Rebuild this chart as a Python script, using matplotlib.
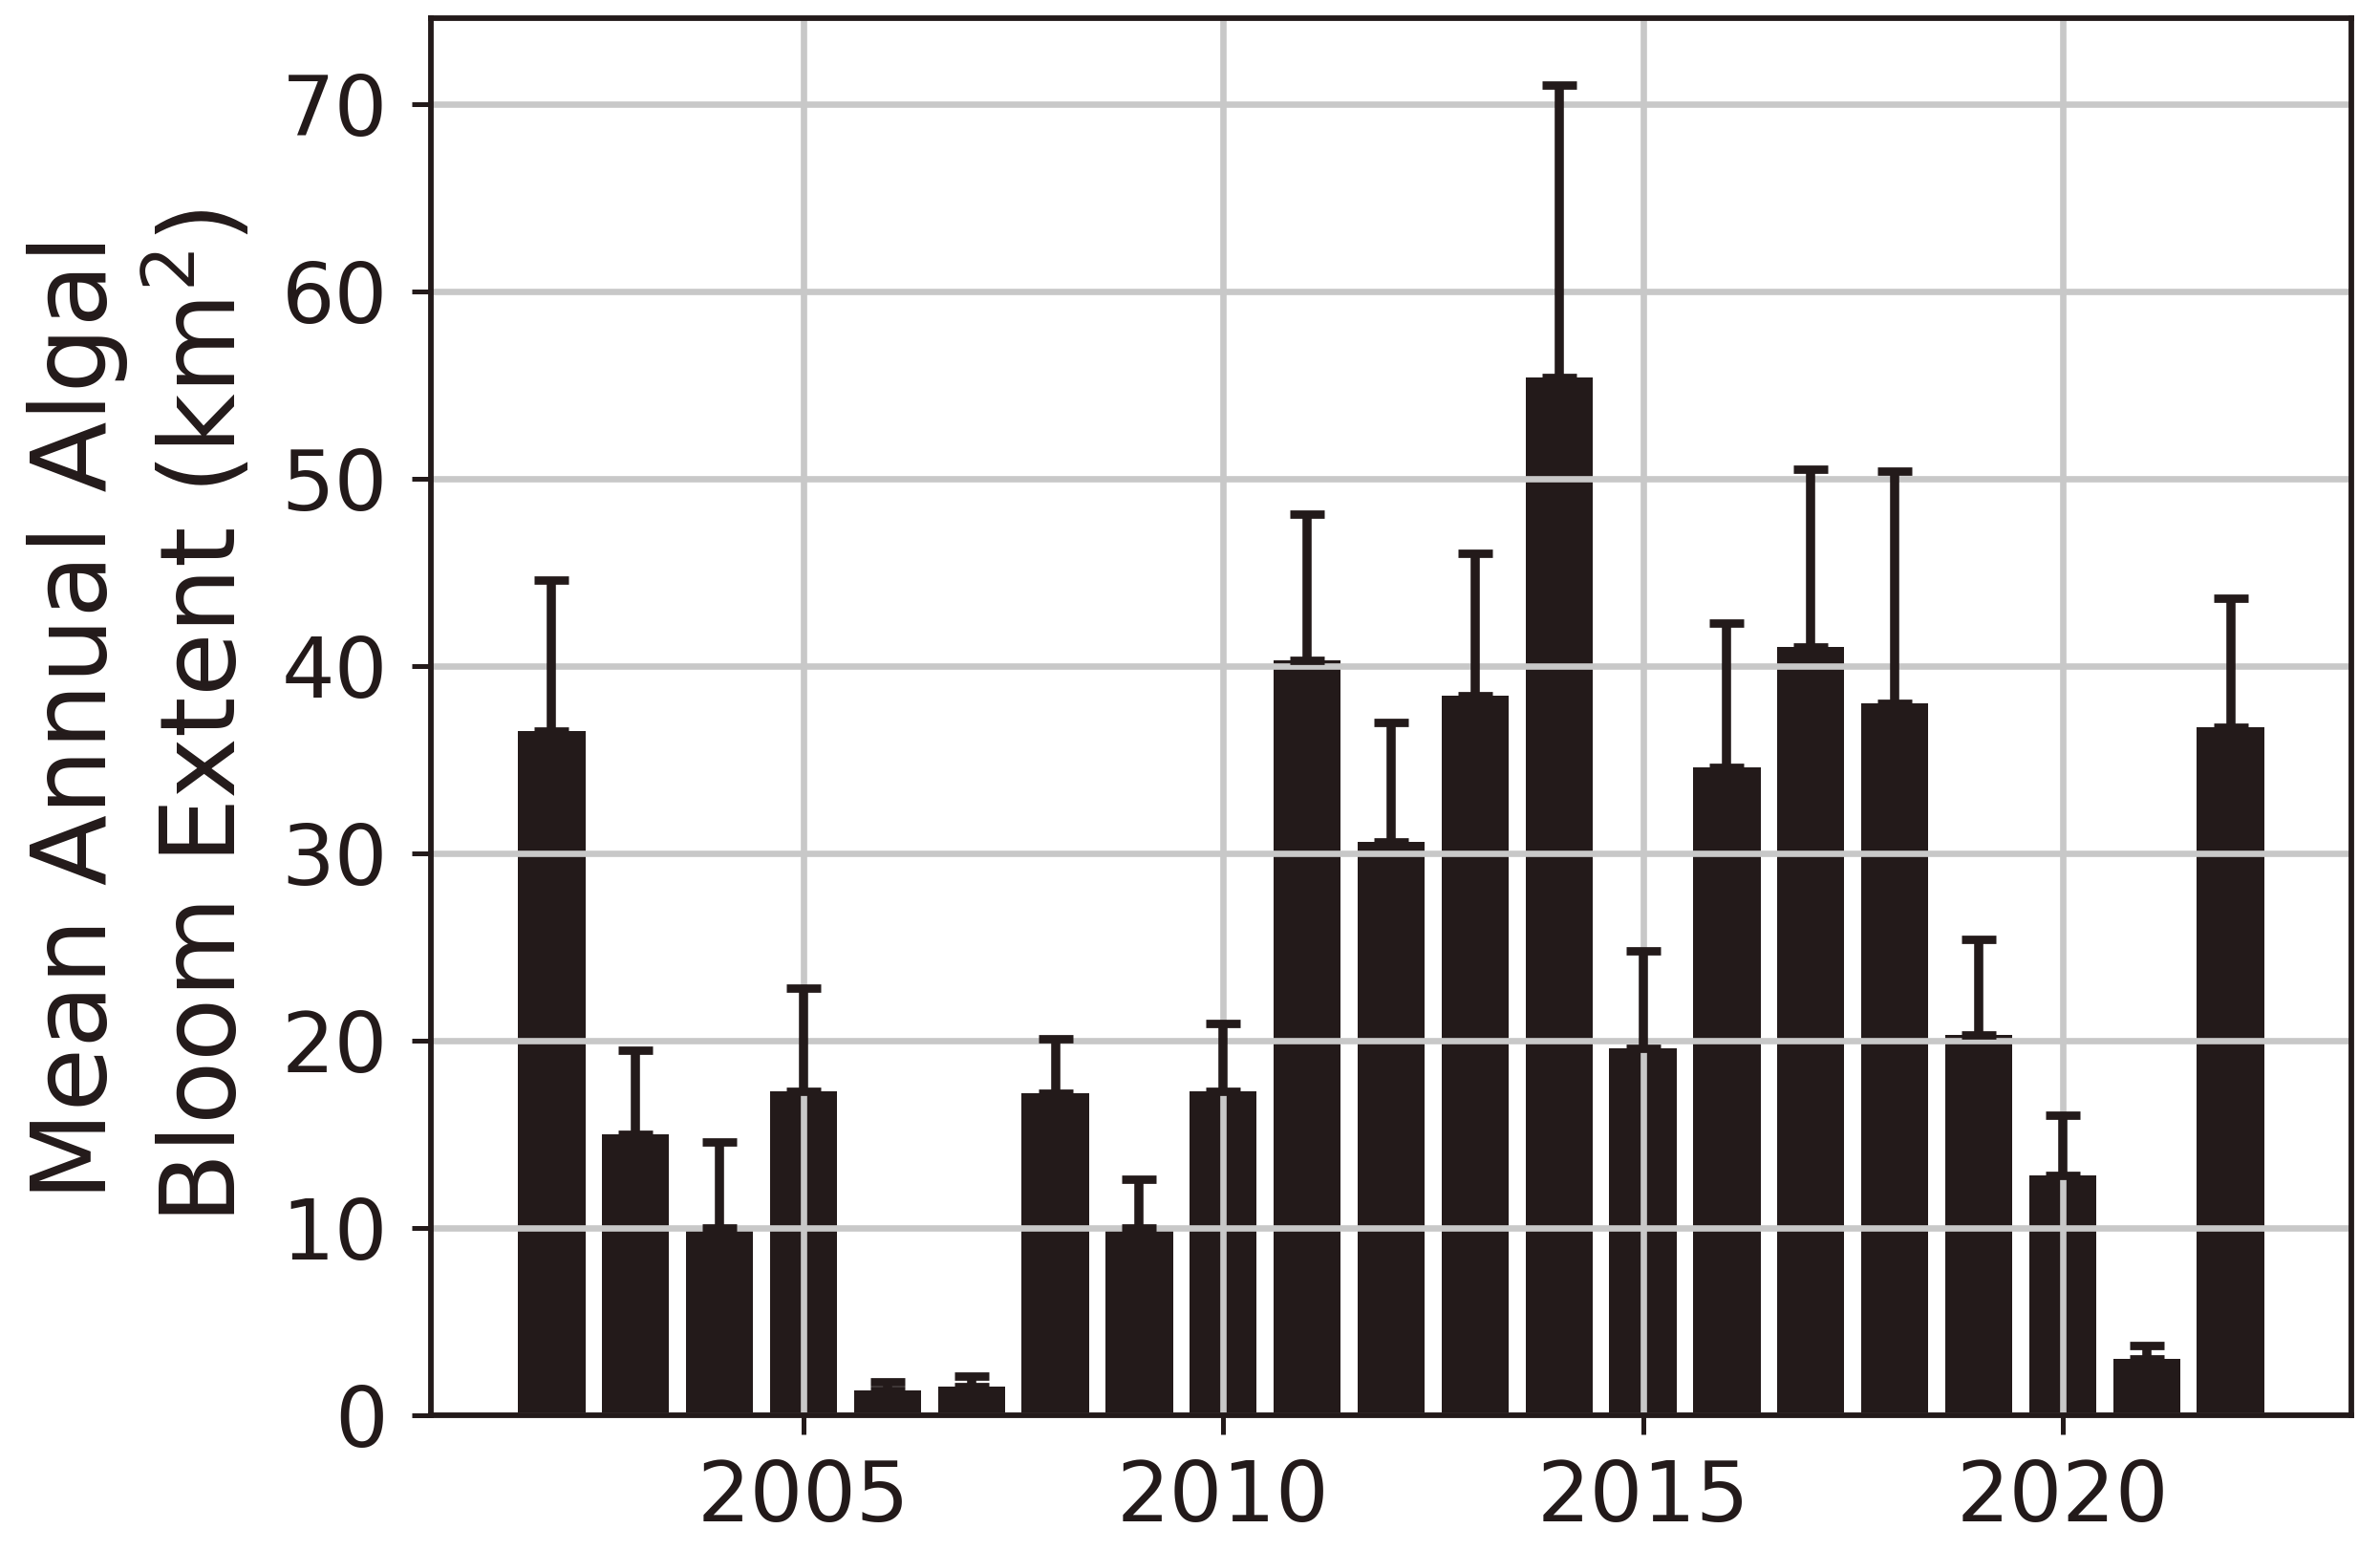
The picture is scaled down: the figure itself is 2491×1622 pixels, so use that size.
import numpy as np
import matplotlib
matplotlib.use("Agg")
import matplotlib.pyplot as plt

years = [2002, 2003, 2004, 2005, 2006, 2007, 2008, 2009, 2010, 2011, 2012,
         2013, 2014, 2015, 2016, 2017, 2018, 2019, 2020, 2021, 2022]
mean_extent = [36.5, 15.0, 10.0, 17.3, 1.3, 1.5, 17.2, 10.0, 17.3, 40.3, 30.6,
               38.4, 55.4, 19.6, 34.6, 41.0, 38.0, 20.3, 12.8, 3.0, 36.7]
upper_value = [44.6, 19.5, 14.6, 22.8, 1.8, 2.1, 20.1, 12.6, 20.9, 48.1, 37.0,
               46.0, 71.0, 24.8, 42.3, 50.5, 50.4, 25.4, 16.0, 3.7, 43.6]

dark = '#231a1a'


def main():
    plt.rcParams['font.family'] = ['DejaVu Sans']
    plt.rcParams['text.color'] = dark
    plt.rcParams['axes.labelcolor'] = dark
    plt.rcParams['xtick.color'] = dark
    plt.rcParams['ytick.color'] = dark

    fig = plt.figure(figsize=(2491 / 300, 1622 / 300), dpi=300)
    ax = fig.add_axes([0.181, 0.087, 0.807, 0.901])

    y = np.array(mean_extent)
    err_up = np.array(upper_value) - y
    err = [np.zeros_like(y), err_up]

    ax.bar(years, y, width=0.8, color=dark, yerr=err,
           error_kw=dict(ecolor=dark, elinewidth=2.3, capsize=4.4, capthick=2.1))

    ax.grid(True, color='#c8c8c8', linewidth=1.6)
    for s in ax.spines.values():
        s.set_color(dark)
        s.set_linewidth(1.4)

    ax.tick_params(axis='both', labelsize=21, length=4.8, width=1.2, pad=6)
    ax.set_ylabel('Mean Annual Algal\nBloom Extent (km$^2$)', fontsize=26,
                  labelpad=6, linespacing=1.2)

    fig.savefig('out.png', dpi=300)


if __name__ == "__main__":
    main()
